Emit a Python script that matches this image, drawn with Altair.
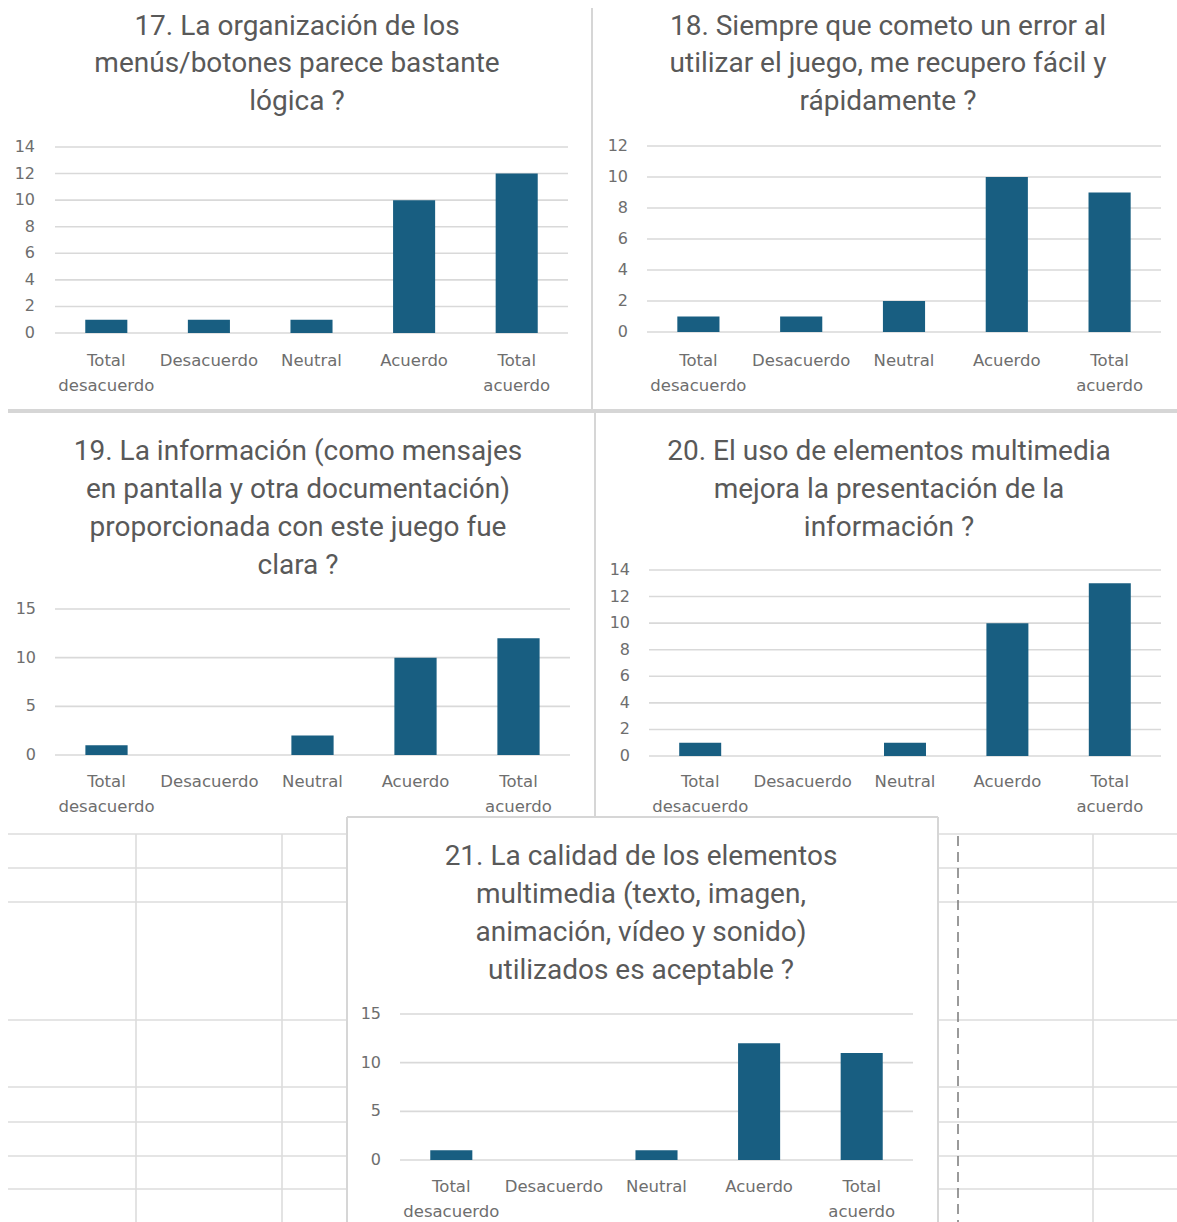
import altair as alt
import pandas as pd

# ---------------------------------------------------------------- data
CATEGORIES = ["Total desacuerdo", "Desacuerdo", "Neutral", "Acuerdo", "Total acuerdo"]
CAT_LABELS = ["Total\ndesacuerdo", "Desacuerdo", "Neutral", "Acuerdo", "Total\nacuerdo"]

Q17_TITLE = ["17. La organización de los", "menús/botones parece bastante", "lógica ?"]
Q17_VALUES = [1, 1, 1, 10, 12]
Q17_TICKS = [0, 2, 4, 6, 8, 10, 12, 14]

Q18_TITLE = ["18. Siempre que cometo un error al", "utilizar el juego, me recupero fácil y", "rápidamente ?"]
Q18_VALUES = [1, 1, 2, 10, 9]
Q18_TICKS = [0, 2, 4, 6, 8, 10, 12]

Q19_TITLE = ["19. La información (como mensajes", "en pantalla y otra documentación)",
             "proporcionada con este juego fue", "clara ?"]
Q19_VALUES = [1, 0, 2, 10, 12]
Q19_TICKS = [0, 5, 10, 15]

Q20_TITLE = ["20. El uso de elementos multimedia", "mejora la presentación de la", "información ?"]
Q20_VALUES = [1, 0, 1, 10, 13]
Q20_TICKS = [0, 2, 4, 6, 8, 10, 12, 14]

Q21_TITLE = ["21. La calidad de los elementos", "multimedia (texto, imagen,",
             "animación, vídeo y sonido)", "utilizados es aceptable ?"]
Q21_VALUES = [1, 0, 1, 12, 11]
Q21_TICKS = [0, 5, 10, 15]

# ---------------------------------------------------------------- style
W, H = 1177, 1222
BAR = "#185e81"
GRID = "#d9d9d9"
SHEET = "#dcdcdc"
TITLE_C = "#595959"
LABEL_C = "#6e6e6e"
TITLE_FONT = "Roboto"
LABEL_FONT = "DejaVu Sans"


def panel(title, values, ticks, plot, title_pos):
    """One bar chart placed on the shared canvas.

    plot = (x_left, x_right, y_zero, y_top, ylabel_right, xlabel_top)
    title_pos = (center_x, first_line_center_y, line_height)
    """
    x0, x1, y0, ytop, ylab_x, xlab_y = plot
    df = pd.DataFrame({"cat": CATEGORIES, "label": CAT_LABELS, "v": values})
    tdf = pd.DataFrame({"t": ticks})
    xs = alt.Scale(domain=CATEGORIES, range=[x0, x1], paddingInner=0.59, paddingOuter=0.295)
    ys = alt.Scale(domain=[0, ticks[-1]], range=[y0, ytop], nice=False, zero=True)

    grid = alt.Chart(tdf).mark_rule(color=GRID, strokeWidth=1.6).encode(
        y=alt.Y("t:Q", scale=ys, axis=None), x=alt.value(x0), x2=alt.value(x1))
    bars = alt.Chart(df).mark_bar(color=BAR).encode(
        x=alt.X("cat:N", scale=xs, axis=None),
        y=alt.Y("v:Q", scale=ys, axis=None))
    ylab = alt.Chart(tdf).mark_text(
        align="right", baseline="middle", font=LABEL_FONT, fontSize=16, color=LABEL_C
    ).encode(y=alt.Y("t:Q", scale=ys, axis=None), x=alt.value(ylab_x), text="t:Q")
    xlab = alt.Chart(df).mark_text(
        align="center", baseline="top", lineBreak="\n", lineHeight=25,
        font=LABEL_FONT, fontSize=16.5, color=LABEL_C
    ).encode(x=alt.X("cat:N", scale=xs, axis=None), y=alt.value(xlab_y), text="label:N")

    cx, cy, lh = title_pos
    head = alt.Chart(pd.DataFrame({"title": ["\n".join(title)]})).mark_text(
        align="center", baseline="middle", lineBreak="\n", lineHeight=lh,
        font=TITLE_FONT, fontSize=28, color=TITLE_C
    ).encode(x=alt.value(cx), y=alt.value(cy), text="title:N")
    return alt.layer(grid, bars, ylab, xlab, head)


def seg(xa, xb, ya, yb, color=SHEET, width=1.6, dash=None):
    kw = dict(color=color, strokeWidth=width)
    if dash:
        kw["strokeDash"] = dash
    return alt.Chart(pd.DataFrame({"k": [0]})).mark_rule(**kw).encode(
        x=alt.value(xa), x2=alt.value(xb), y=alt.value(ya), y2=alt.value(yb))


# spreadsheet cells showing behind the last chart
decor = []
for yy in [834, 868, 902, 1020, 1087, 1122, 1156, 1189]:
    decor.append(seg(8, 347, yy, yy))
    decor.append(seg(938, W, yy, yy))
for xx in [136, 282, 1093]:
    decor.append(seg(xx, xx, 834, H))
decor.append(seg(958, 958, 836, H, color="#7a7a7a", width=1.5, dash=[10, 6]))

# chart frames
decor += [
    seg(592, 592, 8, 410, color="#d6d6d6", width=2),
    seg(8, W, 411, 411, color="#d6d6d6", width=4),
    seg(595, 595, 413, 817, color="#d6d6d6", width=2),
    seg(347, 938, 817, 817, color="#d6d6d6", width=2),
    seg(347, 347, 817, H, color="#d6d6d6", width=2),
    seg(938, 938, 817, H, color="#d6d6d6", width=2),
]

p17 = panel(Q17_TITLE, Q17_VALUES, Q17_TICKS, (55, 568, 333, 147, 35, 353), (297, 26.5, 37.5))
p18 = panel(Q18_TITLE, Q18_VALUES, Q18_TICKS, (647, 1161, 332, 146, 628, 353), (888, 26.5, 37.5))
p19 = panel(Q19_TITLE, Q19_VALUES, Q19_TICKS, (55, 570, 755, 609, 36, 774), (298, 451.5, 38.3))
p20 = panel(Q20_TITLE, Q20_VALUES, Q20_TICKS, (649, 1161, 756, 570, 630, 774), (889, 451.5, 38))
p21 = panel(Q21_TITLE, Q21_VALUES, Q21_TICKS, (400, 913, 1160, 1014, 381, 1179), (641, 856.5, 38))

chart = alt.layer(*decor, p17, p18, p19, p20, p21).resolve_scale(
    x="independent", y="independent"
).properties(
    width=W, height=H, padding=0, autosize="none", background="white"
).configure_view(strokeWidth=0)

chart.save("out.html", embed_options={"renderer": "svg", "actions": False})
